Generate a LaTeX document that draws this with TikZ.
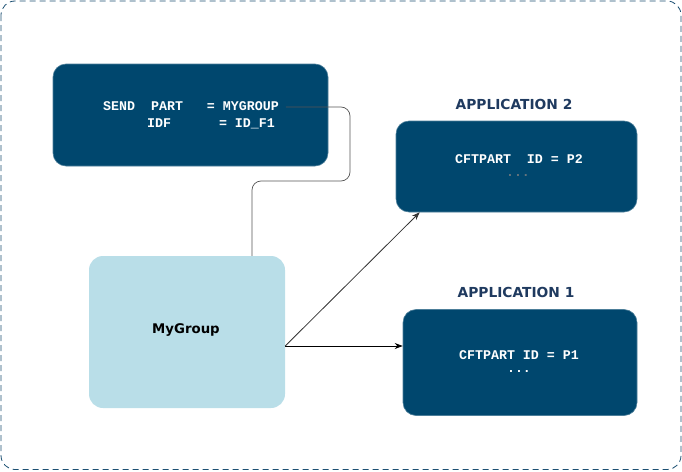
\documentclass[tikz,border=0pt]{standalone}
\usepackage{fontspec}
\usetikzlibrary{arrows.meta}
\newfontfamily\codefont{Liberation Mono}
\newfontfamily\labfont{DejaVu Sans}
\definecolor{boxdark}{HTML}{00476E}
\definecolor{boxlight}{HTML}{B9DEE8}
\definecolor{framec}{HTML}{1B4F72}
\definecolor{titlec}{HTML}{1F3A5F}
\definecolor{linegray}{HTML}{555555}
\begin{document}
\begin{tikzpicture}[x=1pt,y=-1pt,
  darkbox/.style={draw=boxdark!70!white, line width=0.6pt, fill=boxdark, rounded corners=13pt, inner sep=0pt},
  lightbox/.style={fill=boxlight, rounded corners=14pt, inner sep=0pt},
  code/.style={text=white, font=\codefont\bfseries\fontsize{13.3}{16}\selectfont, inner sep=0pt},
  apptitle/.style={text=titlec, font=\labfont\bfseries\fontsize{13.8}{16}\selectfont, inner sep=0pt},
  conn/.style={draw=linegray, line width=0.7pt},
  arr/.style={draw=black, line width=0.8pt, -{Stealth[length=8pt,width=6pt]}}]
\useasboundingbox (0,0) rectangle (682,471);
\draw[framec, line width=0.8pt, dash pattern=on 6pt off 4pt, rounded corners=14pt] (1,1) rectangle (681,469.5);
% boxes
\node[darkbox, minimum width=275pt, minimum height=102pt] (send) at (190.5,115) {};
\node[lightbox, minimum width=196pt, minimum height=152pt] (mygroup) at (187,332) {};
\node[darkbox, minimum width=241pt, minimum height=91pt] (app2) at (516.5,166.5) {};
\node[darkbox, minimum width=234pt, minimum height=106pt] (app1) at (520,362.5) {};
% texts
\node[code, anchor=west] (s1) at (103,106) {SEND~~PART~~~=~MYGROUP};
\node[code, anchor=west] (s2) at (147,124) {IDF~~~~~~=~ID\_F1};
\node[text=black, font=\labfont\bfseries\fontsize{13.3}{16}\selectfont] (mg) at (186,330) {MyGroup};
\node[apptitle] (t2) at (514,104) {APPLICATION 2};
\node[apptitle] (t1) at (516,292) {APPLICATION 1};
\node[code] (p2) at (519,159) {CFTPART~~ID~=~P2};
\node[code, text=gray!80!boxdark] (d2) at (518,176) {...};
\node[code] (p1) at (519,355) {CFTPART~ID~=~P1};
\node[code] (d1) at (519,372) {...};
% connectors
\coordinate (c1) at (350,181);
\draw[conn, rounded corners=9pt] ([xshift=7pt,yshift=-1pt]s1.east) -| (c1) -| ([xshift=65pt]mygroup.north);
\coordinate (src) at ([yshift=-14pt]mygroup.east);
\draw[arr] (src) -- (src -| app1.west);
\draw[arr, draw=linegray!60!black] (src) -- ([xshift=24pt]app2.south west);
\end{tikzpicture}
\end{document}
